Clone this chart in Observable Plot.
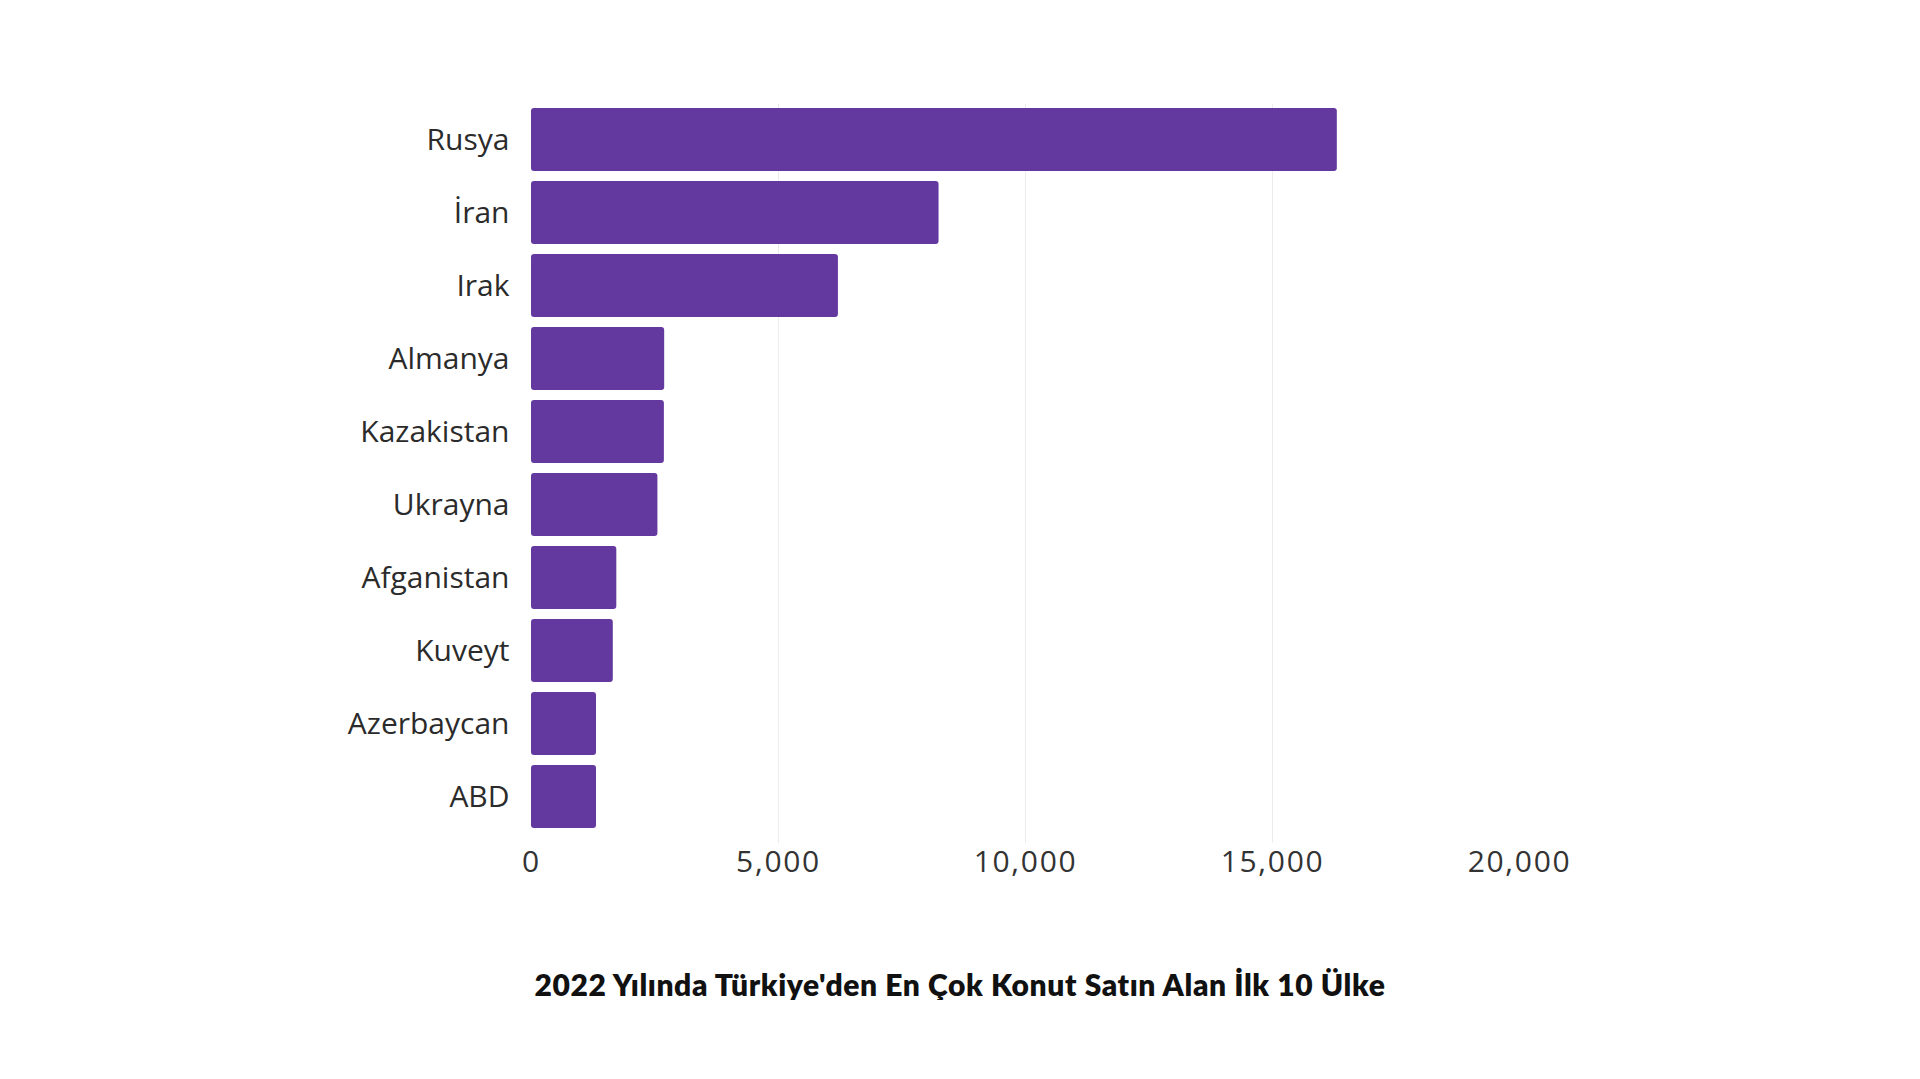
<!DOCTYPE html>
<html>
<head>
<meta charset="utf-8">
<script src="https://cdn.jsdelivr.net/npm/d3@7"></script>
<script src="https://cdn.jsdelivr.net/npm/@observablehq/plot@0.6"></script>
<style>
  html, body { margin: 0; padding: 0; background: #ffffff; }
  #chart { width: 1920px; height: 900px; }
  #title {
    width: 1920px;
    text-align: center;
    font-family: Lato, "Noto Sans", sans-serif;
    font-weight: 800;
    font-size: 30px;
    letter-spacing: 0.6px;
    color: #111111;
    margin-top: 68px;
    line-height: 32px;
  }
  #chart svg g[aria-label="x-axis tick label"] text { letter-spacing: 1.7px; }
</style>
</head>
<body>
<div id="chart"></div>
<div id="title">2022 Yılında Türkiye'den En Çok Konut Satın Alan İlk 10 Ülke</div>
<script>
const countries = ["Rusya", "İran", "Irak", "Almanya", "Kazakistan", "Ukrayna", "Afganistan", "Kuveyt", "Azerbaycan", "ABD"];
const sales = [16312, 8250, 6213, 2696, 2690, 2559, 1727, 1656, 1316, 1316];
const xTicks = [0, 5000, 10000, 15000, 20000];
const gridTicks = [5000, 10000, 15000];

const data = countries.map((c, i) => ({country: c, value: sales[i]}));

const chart = Plot.plot({
  width: 1920,
  height: 900,
  marginTop: 94,
  marginBottom: 57,
  marginLeft: 531,
  marginRight: 401,
  style: {fontFamily: "'Open Sans', 'Noto Sans', sans-serif", background: "#ffffff"},
  x: {domain: [0, 20000], ticks: xTicks, tickFormat: d3.format(","), label: null},
  y: {domain: countries, padding: 0.135, label: null},
  marks: [
    Plot.ruleX(gridTicks, {stroke: "#ececec", strokeWidth: 1, insetTop: 10}),
    Plot.barX(data, {x: "value", y: "country", fill: "#63399f", rx: 3}),
    Plot.axisX({ticks: xTicks, tickFormat: d3.format(","), tickSize: 0, tickPadding: 7, fontSize: 30, fill: "#333333", label: null}),
    Plot.axisY({tickSize: 0, tickPadding: 22, fontSize: 30, fill: "#2b2b2b", label: null})
  ]
});
document.getElementById("chart").appendChild(chart);
</script>
</body>
</html>
